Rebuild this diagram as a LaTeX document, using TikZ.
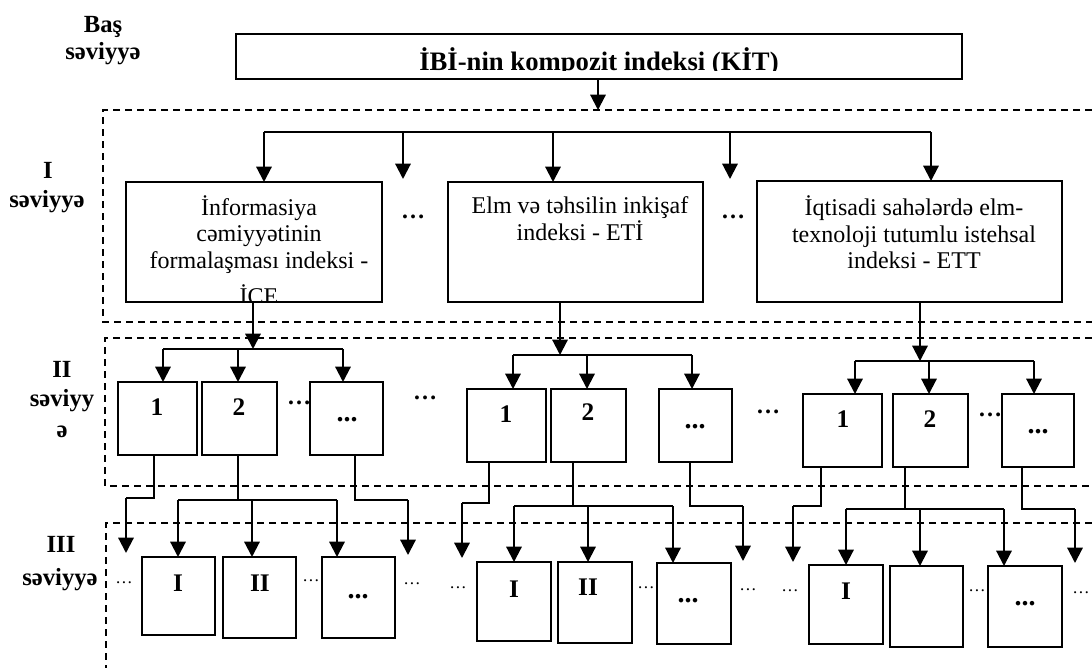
\documentclass[tikz,border=0pt]{standalone}
\usepackage{fontspec}
\setmainfont{Liberation Serif}
\usetikzlibrary{arrows.meta}
\newcommand\Bx[6][]{\node[box,#1,minimum width={(#5-#3)*0.75pt},minimum height={(#6-#4)*0.75pt}] (#2) at ({(#3+#5)/2},{(#4+#6)/2}) {};}
\begin{document}
\begin{tikzpicture}[x=0.75pt,y=-0.75pt,
 box/.style={draw, line width=0.95pt, inner sep=0pt, outer sep=0pt},
 txt/.style={inner sep=0pt, anchor=base, font=\fontsize{18}{20}\selectfont},
 lbl/.style={inner sep=0pt, anchor=base, font=\fontsize{18.5}{20}\selectfont\bfseries},
 num/.style={inner sep=0pt, anchor=base, font=\fontsize{19}{20}\selectfont\bfseries},
 bdots/.style={inner sep=0pt, anchor=base, font=\fontsize{21}{22}\selectfont\bfseries},
 dotsA/.style={inner sep=0pt, font=\fontsize{18}{20}\selectfont\bfseries},
 dotsB/.style={inner sep=0pt, font=\fontsize{13}{15}\selectfont},
 frame/.style={line width=1.1pt, dash pattern=on 5.25pt off 3.75pt},
 arr/.style={line width=1.6pt, -{Triangle[length=11.5pt,width=11.5pt]}},
 ln/.style={line width=1.1pt},
 bus/.style={line width=1.5pt}]
\useasboundingbox (0,0) rectangle (1092,668);

% level labels
\node[lbl] (l0a) at (103,32) {Baş};
\node[lbl] (l0b) at (103,59) {səviyyə};
\node[lbl] (l1a) at (48,178) {I};
\node[lbl] (l1b) at (47,207) {səviyyə};
\node[lbl] (l2a) at (62,377) {II};
\node[lbl] (l2b) at (62,406) {səviyy};
\node[lbl] (l2c) at (62,437) {ə};
\node[lbl] (l3a) at (61,552) {III};
\node[lbl] (l3b) at (60,585) {səviyyə};

% dashed frames
\draw[frame] (1092,110) -- (103,110) -- (103,322) -- (1092,322);
\draw[frame] (1092,338) -- (105,338) -- (105,486) -- (1092,486);
\draw[frame] (1092,523) -- (106,523) -- (106,668);

% top box
\Bx[line width=1pt]{kit}{236}{34}{962}{79}
\begin{scope}
\clip (237,35) rectangle (961,70);
\node[inner sep=0pt, anchor=base, font=\fontsize{20}{22}\selectfont\bfseries] (kitT) at (599,70) {İBİ-nin kompozit indeksi (KİT)};
\end{scope}
\coordinate (t1) at (598,110);
\draw[arr] (kit.south -| t1) -- (t1);

% level I boxes
\Bx[line width=1pt]{A}{126}{182}{382}{302}
\Bx[line width=1pt]{B}{448}{182}{703}{302}
\Bx[line width=1pt]{C}{757}{181}{1062}{302}
\node[txt] (a1) at (259,215) {İnformasiya};
\node[txt] (a2) at (259,241.7) {cəmiyyətinin};
\node[txt] (a3) at (259,268.3) {formalaşması indeksi -};
\begin{scope}
\clip (127,183) rectangle (381,300);
\node[txt] (a4) at (259,304) {İCE};
\end{scope}
\node[txt] (b1) at (580,213) {Elm və təhsilin inkişaf};
\node[txt] (b2) at (580,240) {indeksi - ETİ};
\node[txt] (c1) at (914,215) {İqtisadi sahələrdə elm-};
\node[txt] (c2) at (914,242) {texnoloji tutumlu istehsal};
\node[txt] (c3) at (914,268) {indeksi - ETT};
\node[dotsA] (d1) at (413,217) {…};
\node[dotsA] (d2) at (733,217) {…};

% level I bus
\coordinate (u1) at (264,132);
\coordinate (u2) at (403,132);
\coordinate (u3) at (553,132);
\coordinate (u4) at (730,132);
\coordinate (u5) at (931,132);
\coordinate (u2e) at (403,179);
\coordinate (u4e) at (730,179);
\draw[bus] (u1) -- (u5);
\draw[arr] (u1) -- (A.north -| u1);
\draw[arr] (u2) -- (u2e);
\draw[arr] (u3) -- (B.north -| u3);
\draw[arr] (u4) -- (u4e);
\draw[arr] (u5) -- (C.north -| u5);

% level II boxes
\Bx{p11}{118}{382}{197}{455}
\Bx{p12}{202}{382}{277}{455}
\Bx{p13}{310}{382}{383}{455}
\Bx{p21}{467}{389}{546}{462}
\Bx{p22}{551}{389}{626}{462}
\Bx{p23}{659}{389}{732}{462}
\Bx{p31}{803}{394}{882}{467}
\Bx{p32}{893}{394}{968}{467}
\Bx{p33}{1002}{394}{1074}{467}
\node[num] (n11) at (157,415) {1};
\node[num] (n12) at (239,415) {2};
\node[bdots] (n13) at (347,421) {...};
\node[num] (n21) at (506,422) {1};
\node[num] (n22) at (588,420) {2};
\node[bdots] (n23) at (695,428) {...};
\node[num] (n31) at (843,427) {1};
\node[num] (n32) at (930,427) {2};
\node[bdots] (n33) at (1038,433) {...};
\node[dotsA] (e1) at (299,403) {…};
\node[dotsA] (e2) at (425,398) {…};
\node[dotsA] (e3) at (768,412) {…};
\node[dotsA] (e4) at (990,415) {…};

% level I -> II
\coordinate (v1) at (253,349);
\coordinate (v2) at (560,355);
\coordinate (v3) at (920,361);
\draw[arr] (A.south -| v1) -- (v1);
\draw[arr] (B.south -| v2) -- (v2);
\draw[arr] (C.south -| v3) -- (v3);
\coordinate (w11) at (163,349); \coordinate (w12) at (238,349); \coordinate (w13) at (343,349);
\coordinate (w21) at (513,355); \coordinate (w22) at (587,355); \coordinate (w23) at (692,355);
\coordinate (w31) at (855,361); \coordinate (w32) at (929,361); \coordinate (w33) at (1034,361);
\draw[bus] (w11) -- (w13);
\draw[bus] (w21) -- (w23);
\draw[bus] (w31) -- (w33);
\draw[arr] (w11) -- (p11.north -| w11);
\draw[arr] (w12) -- (p12.north -| w12);
\draw[arr] (w13) -- (p13.north -| w13);
\draw[arr] (w21) -- (p21.north -| w21);
\draw[arr] (w22) -- (p22.north -| w22);
\draw[arr] (w23) -- (p23.north -| w23);
\draw[arr] (w31) -- (p31.north -| w31);
\draw[arr] (w32) -- (p32.north -| w32);
\draw[arr] (w33) -- (p33.north -| w33);

% level III boxes
\Bx{q11}{142}{557}{215}{635}
\Bx{q12}{223}{557}{296}{638}
\Bx{q13}{322}{557}{395}{638}
\Bx{q21}{477}{562}{551}{641}
\Bx{q22}{558}{562}{632}{643}
\Bx{q23}{657}{563}{731}{644}
\Bx{q31}{809}{565}{883}{644}
\Bx{q32}{890}{566}{963}{647}
\Bx{q33}{988}{566}{1062}{647}
\node[num] (m11) at (178,591) {I};
\node[num] (m12) at (260,591) {II};
\node[bdots] (m13) at (358,598) {...};
\node[num] (m21) at (514,597) {I};
\node[num] (m22) at (588,595) {II};
\node[bdots] (m23) at (688,602) {...};
\node[num] (m31) at (846,599) {I};
\node[bdots] (m33) at (1025,605) {...};
\node[dotsB] (f11) at (124,583) {…};
\node[dotsB] (f12) at (311,581) {…};
\node[dotsB] (f13) at (412,584) {…};
\node[dotsB] (f21) at (458,588) {…};
\node[dotsB] (f22) at (646,588) {…};
\node[dotsB] (f23) at (748,590) {…};
\node[dotsB] (f31) at (790,591) {…};
\node[dotsB] (f32) at (977,591) {…};
\node[dotsB] (f33) at (1081,593) {…};

% level II -> III, group 1
\coordinate (g1a) at (154,498); \coordinate (g1b) at (126,498); \coordinate (g1c) at (126,553);
\draw[ln] (p11.south -| g1a) -- (g1a) -- (g1b);
\draw[arr] (g1b) -- (g1c);
\coordinate (g1d) at (238,500); \coordinate (g1e) at (178,500); \coordinate (g1f) at (252,500); \coordinate (g1g) at (337,500);
\draw[ln] (p12.south -| g1d) -- (g1d);
\draw[ln] (g1e) -- (g1g);
\draw[arr] (g1e) -- (q11.north -| g1e);
\draw[arr] (g1f) -- (q12.north -| g1f);
\draw[arr] (g1g) -- (q13.north -| g1g);
\coordinate (g1h) at (355,500); \coordinate (g1i) at (408,500); \coordinate (g1j) at (408,555);
\draw[ln] (p13.south -| g1h) -- (g1h) -- (g1i);
\draw[arr] (g1i) -- (g1j);

% group 2
\coordinate (g2a) at (489,503); \coordinate (g2b) at (462,503); \coordinate (g2c) at (462,558);
\draw[ln] (p21.south -| g2a) -- (g2a) -- (g2b);
\draw[arr] (g2b) -- (g2c);
\coordinate (g2d) at (573,506); \coordinate (g2e) at (514,506); \coordinate (g2f) at (588,506); \coordinate (g2g) at (673,506);
\draw[ln] (p22.south -| g2d) -- (g2d);
\draw[ln] (g2e) -- (g2g);
\draw[arr] (g2e) -- (q21.north -| g2e);
\draw[arr] (g2f) -- (q22.north -| g2f);
\draw[arr] (g2g) -- (q23.north -| g2g);
\coordinate (g2h) at (690,506); \coordinate (g2i) at (743,506); \coordinate (g2j) at (743,561);
\draw[ln] (p23.south -| g2h) -- (g2h) -- (g2i);
\draw[arr] (g2i) -- (g2j);

% group 3
\coordinate (g3a) at (821,506); \coordinate (g3b) at (793,506); \coordinate (g3c) at (793,562);
\draw[ln] (p31.south -| g3a) -- (g3a) -- (g3b);
\draw[arr] (g3b) -- (g3c);
\coordinate (g3d) at (905,509); \coordinate (g3e) at (846,509); \coordinate (g3f) at (920,509); \coordinate (g3g) at (1004,509);
\draw[ln] (p32.south -| g3d) -- (g3d);
\draw[ln] (g3e) -- (g3g);
\draw[arr] (g3e) -- (q31.north -| g3e);
\draw[arr] (g3f) -- (q32.north -| g3f);
\draw[arr] (g3g) -- (q33.north -| g3g);
\coordinate (g3h) at (1022,509); \coordinate (g3i) at (1075,509); \coordinate (g3j) at (1075,563);
\draw[ln] (p33.south -| g3h) -- (g3h) -- (g3i);
\draw[arr] (g3i) -- (g3j);
\end{tikzpicture}
\end{document}
